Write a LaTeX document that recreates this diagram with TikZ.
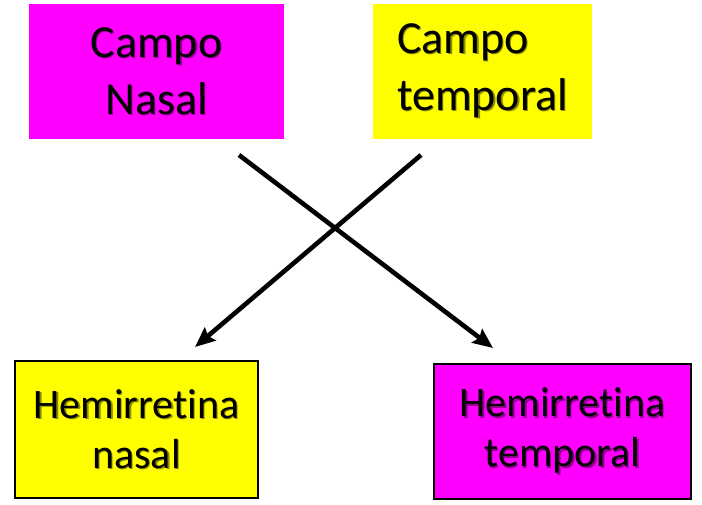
\documentclass[tikz,border=0pt]{standalone}
\usepackage{fontspec}
\setmainfont[Ligatures=NoCommon]{Carlito}
\usetikzlibrary{arrows.meta}
\definecolor{mag}{HTML}{FF00FF}
\definecolor{yel}{HTML}{FFFF00}
\newcommand\shd[2]{\makebox[0pt][l]{\kern1.3pt\raisebox{-1.3pt}{\textcolor{#1!55!black}{#2}}}#2}
\begin{document}
\begin{tikzpicture}[x=1pt,y=-1pt,
  topbox/.style={rectangle,inner sep=0pt,align=center,font=\fontsize{46}{57}\selectfont},
  botbox/.style={rectangle,draw=black,line width=1.6pt,inner sep=0pt,align=center,font=\fontsize{42}{49}\selectfont},
  conn/.style={line width=4.6pt,-{Stealth[length=20pt,width=17pt,inset=3pt]}}]
\useasboundingbox (0,0) rectangle (702,505);
\node[topbox,fill=mag,minimum width=255pt,minimum height=135pt] (cn) at (156.5,71.5) {\shd{mag}{Campo}\\\shd{mag}{Nasal}};
\node[topbox,fill=yel,minimum width=219pt,minimum height=135pt,align=left] (ct) at (482.5,71.5) {\shd{yel}{Campo}\\\shd{yel}{temporal}};
\node[botbox,fill=yel,minimum width=243pt,minimum height=137pt] (hn) at (136.5,429.5) {\shd{yel}{Hemirretina}\\[1pt]\shd{yel}{nasal}};
\node[botbox,fill=mag,minimum width=257pt,minimum height=135pt] (ht) at (562.5,431.5) {\shd{mag}{Hemirretina}\\[1pt]\shd{mag}{temporal}};
\coordinate (a1s) at (239,155);
\coordinate (a1e) at (493,348);
\coordinate (a2s) at (421,155);
\coordinate (a2e) at (195,347);
\draw[conn] (a1s) -- (a1e);
\draw[conn] (a2s) -- (a2e);
\end{tikzpicture}
\end{document}
